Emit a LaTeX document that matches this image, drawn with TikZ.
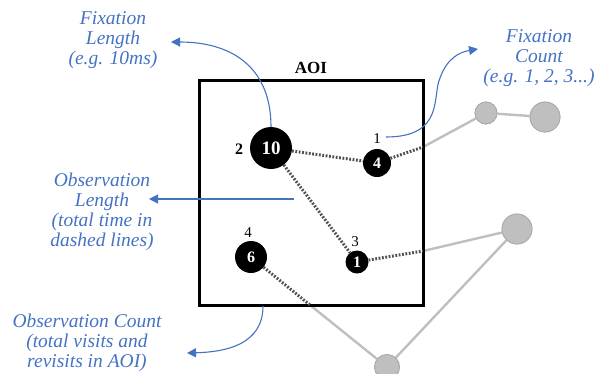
\documentclass[tikz,border=0pt]{standalone}
\usepackage{fontspec}
\setmainfont{Liberation Serif}
\usetikzlibrary{arrows.meta}
\definecolor{annoblue}{RGB}{68,114,196}
\definecolor{lightgr}{RGB}{191,191,191}
\definecolor{gredge}{RGB}{170,170,170}
\definecolor{dotgr}{RGB}{80,80,80}
\tikzset{
  fix/.style={circle, fill=black, inner sep=0pt, text=white, font=\bfseries},
  ghost/.style={circle, fill=lightgr, draw=gredge, line width=0.8pt, inner sep=0pt},
  order/.style={inner sep=0pt, font=\fontsize{15}{15}\selectfont},
  anno/.style={text=annoblue, align=center, inner sep=0pt, font=\itshape\fontsize{19.5}{20}\selectfont},
  annoarrow/.style={draw=annoblue, line width=1.1pt, -{Triangle[length=9pt,width=9pt]}},
  saccade/.style={draw=dotgr, line width=3pt, dash pattern=on 1.8pt off 1.6pt},
  greyline/.style={draw=lightgr, line width=2.4pt},
  aoibox/.style={draw=black, line width=3pt}
}
\begin{document}
\begin{tikzpicture}[x=1pt,y=-1pt]
\useasboundingbox (0,0) rectangle (600,373);

% boundary coordinates
\coordinate (e1) at (423,147);
\coordinate (e2) at (423,251);
\coordinate (e3) at (310,305);

% gray (outside AOI) fixations
\node[ghost, minimum size=22pt] (g1) at (486,113) {};
\node[ghost, minimum size=30pt] (g2) at (545,117) {};
\node[ghost, minimum size=30pt] (g3) at (517,229) {};
\node[ghost, minimum size=25pt] (g4) at (387,367) {};

\draw[greyline] (e1) -- (g1) -- (g2);
\draw[greyline] (e2) -- (g3) -- (g4);
\draw[greyline] (e3) -- (g4);
\node[ghost, minimum size=22pt] at (g1) {};
\node[ghost, minimum size=30pt] at (g2) {};
\node[ghost, minimum size=30pt] at (g3) {};
\node[ghost, minimum size=25pt] at (g4) {};

% AOI box
\node[aoibox, minimum width=224pt, minimum height=225pt, inner sep=0pt] (aoi) at (311,192.5) {};
\node[font=\bfseries\fontsize{17}{17}\selectfont, inner sep=0pt] (aoilbl) at (311,68) {AOI};

% fixations inside AOI
\node[fix, minimum size=42pt, font=\bfseries\fontsize{19}{19}\selectfont] (n10) at (271,148) {10};
\node[fix, minimum size=28pt, font=\bfseries\fontsize{16}{16}\selectfont] (n4) at (377,163) {4};
\node[fix, minimum size=23pt, font=\bfseries\fontsize{16}{16}\selectfont] (n1) at (357,262) {1};
\node[fix, minimum size=32pt, font=\bfseries\fontsize{16}{16}\selectfont] (n6) at (251,257) {6};

% saccades (dotted)
\draw[saccade] (n10) -- (n4);
\draw[saccade] (n10) -- (n1);
\draw[saccade] (n4) -- (e1);
\draw[saccade] (n1) -- (e2);
\draw[saccade] (n6) -- (e3);

% order labels
\node[order, font=\bfseries\fontsize{16}{16}\selectfont] (o2) at (239,149) {2};
\node[order] (o1) at (377,139) {1};
\node[order] (o3) at (355,242) {3};
\node[order] (o4) at (248,233) {4};

% annotations
\node[anno] (fl) at (113,40) {Fixation\\Length\\(e.g. 10ms)};
\node[anno] (fc) at (539,58) {Fixation\\Count\\(e.g. 1, 2, 3...)};
\node[anno] (ol) at (102,212) {Observation\\Length\\(total time in\\dashed lines)};
\node[anno] (oc) at (87,343) {Observation Count\\(total visits and\\revisits in AOI)};

% annotation arrows
\coordinate (flTip) at (171,42);
\coordinate (fcTip) at (478,49);
\coordinate (olStart) at (294,199);
\coordinate (olTip) at (149,199);
\coordinate (ocTip) at (187,353);
\coordinate (ocStart) at (263,306);
\coordinate (fcStart) at (386,137);

\draw[annoarrow] (n10.north) .. controls (271,70) and (235,42) .. (flTip);
\draw[annoarrow] (fcStart) .. controls (445,137) and (432,95) .. (440,78) .. controls (447,58) and (460,52) .. (fcTip);
\draw[annoarrow] (olStart) -- (olTip);
\draw[annoarrow] (ocStart) .. controls (263,345) and (225,352) .. (ocTip);
\end{tikzpicture}
\end{document}
